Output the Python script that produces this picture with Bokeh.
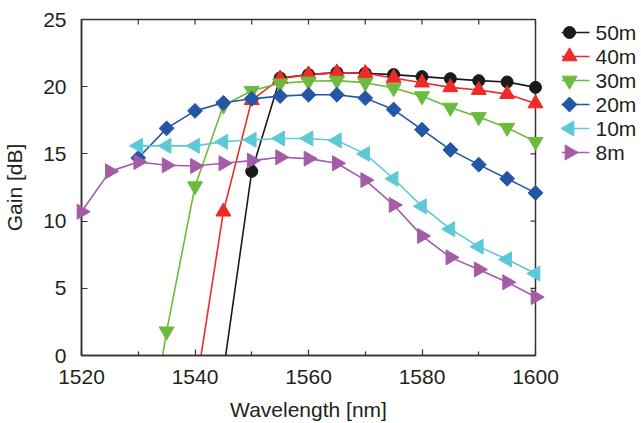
from bokeh.plotting import figure
from bokeh.layouts import row
from bokeh.models import (ColumnDataSource, FixedTicker, Range1d, CDSView, BooleanFilter)
from bokeh.core.properties import value
from bokeh.embed import file_html
from bokeh.resources import INLINE
import math

# ---- data ----
series_names = ["50m", "40m", "30m", "20m", "10m", "8m"]
wl_50 = [1545, 1550, 1555, 1560, 1565, 1570, 1575, 1580, 1585, 1590, 1595, 1600]
g_50 = [-1.2, 13.7, 20.65, 20.9, 21.05, 21.0, 20.9, 20.75, 20.6, 20.45, 20.35, 19.95]
wl_40 = [1540, 1545, 1550, 1555, 1560, 1565, 1570, 1575, 1580, 1585, 1590, 1595, 1600]
g_40 = [-2.9, 10.7, 19.0, 20.6, 20.9, 21.05, 21.0, 20.65, 20.3, 19.95, 19.75, 19.45, 18.75]
wl_30 = [1530, 1535, 1540, 1545, 1550, 1555, 1560, 1565, 1570, 1575, 1580, 1585, 1590, 1595, 1600]
g_30 = [-11.0, 1.8, 12.6, 18.6, 19.7, 20.25, 20.4, 20.45, 20.3, 19.9, 19.3, 18.45, 17.75, 16.95, 15.9]
wl_20 = [1530, 1535, 1540, 1545, 1550, 1555, 1560, 1565, 1570, 1575, 1580, 1585, 1590, 1595, 1600]
g_20 = [14.7, 16.9, 18.2, 18.8, 19.1, 19.3, 19.4, 19.4, 19.15, 18.3, 16.8, 15.3, 14.2, 13.15, 12.1]
wl_10 = [1530, 1535, 1540, 1545, 1550, 1555, 1560, 1565, 1570, 1575, 1580, 1585, 1590, 1595, 1600]
g_10 = [15.6, 15.6, 15.6, 15.9, 16.05, 16.15, 16.15, 16.0, 15.0, 13.15, 11.1, 9.4, 8.1, 7.15, 6.1]
wl_8 = [1520, 1525, 1530, 1535, 1540, 1545, 1550, 1555, 1560, 1565, 1570, 1575, 1580, 1585, 1590, 1595, 1600]
g_8 = [10.7, 13.7, 14.4, 14.15, 14.1, 14.3, 14.5, 14.75, 14.65, 14.3, 13.05, 11.2, 8.9, 7.3, 6.4, 5.45, 4.35]

x_major = [1520, 1540, 1560, 1580, 1600]
x_minor = [1530, 1550, 1570, 1590]
y_major = [0, 5, 10, 15, 20, 25]
x_lo, x_hi = 1520, 1600
y_lo, y_hi = 0, 25

colors = ["#1a1a1a", "#ee2a2a", "#6cbb3c", "#2356a6", "#5ec9d6", "#a45ca8"]
markers = ["circle", "triangle", "inverted_triangle", "square", "triangle", "triangle"]
angles = [0, 0, 0, math.pi / 4, math.pi / 2, -math.pi / 2]
sizes = [12, 15, 15, 10.5, 15, 15]

FONT = "Liberation Sans"
TXT = "#231f20"
AX = "#333333"

# layout constants (screen pixels)
FW, FH = 454, 336
BORDER_TOP = 19
BORDER_RIGHT = 26
LEG_W = 78
ROW = 24
ROW0 = 13            # first legend row centre below frame top
LINE_X0, LINE_X1 = 0, 28
MARK_X = 8
TEXT_X = 34

p = figure(frame_width=FW, frame_height=FH, output_backend="svg", toolbar_location=None,
           x_range=Range1d(x_lo, x_hi), y_range=Range1d(y_lo, y_hi),
           min_border_left=75, min_border_top=BORDER_TOP, min_border_bottom=10,
           min_border_right=BORDER_RIGHT,
           background_fill_color="white", border_fill_color="white")
p.grid.visible = False
p.outline_line_color = AX
p.outline_line_width = 1.5

xt = FixedTicker(ticks=x_major, minor_ticks=x_minor)
yt = FixedTicker(ticks=y_major, minor_ticks=[])

for ax in (p.xaxis[0], p.yaxis[0]):
    ax.axis_line_color = AX
    ax.axis_line_width = 1.5
    ax.major_tick_in = 6
    ax.major_tick_out = 0
    ax.minor_tick_in = 4
    ax.minor_tick_out = 0
    ax.major_tick_line_color = AX
    ax.minor_tick_line_color = AX
    ax.major_tick_line_width = 1.2
    ax.minor_tick_line_width = 1.2
    ax.major_label_text_font = FONT
    ax.major_label_text_font_size = "21px"
    ax.major_label_text_color = TXT
    ax.axis_label_text_font = FONT
    ax.axis_label_text_font_size = "21px"
    ax.axis_label_text_font_style = "normal"
    ax.axis_label_text_color = TXT

p.xaxis.ticker = xt
p.yaxis.ticker = yt
p.xaxis.axis_label = "Wavelength [nm]"
p.yaxis.axis_label = "Gain [dB]"
p.xaxis.major_label_standoff = 14
p.xaxis.axis_label_standoff = 11
p.yaxis.major_label_standoff = 15
p.yaxis.axis_label_standoff = 14

# mirrored inward ticks on the top and right frame edges
p.ray(x=x_major + x_minor, y=[y_hi] * (len(x_major) + len(x_minor)), length=5,
      length_units="screen", angle=-math.pi / 2, line_color=AX, line_width=1.2)
p.ray(x=[x_hi] * len(y_major), y=y_major, length=5, length_units="screen",
      angle=math.pi, line_color=AX, line_width=1.2)

wls = [wl_50, wl_40, wl_30, wl_20, wl_10, wl_8]
gs = [g_50, g_40, g_30, g_20, g_10, g_8]
for name, wl, g, c, m, a, s in zip(series_names, wls, gs, colors, markers, angles, sizes):
    src = ColumnDataSource(dict(x=wl, y=g))
    p.line("x", "y", source=src, line_color=c, line_width=1.6)
    view = CDSView(filter=BooleanFilter([v >= y_lo for v in g]))
    p.scatter("x", "y", source=src, view=view, marker=m, angle=a, size=s,
              fill_color=c, line_color=c, line_width=1, level="overlay")

# ---- legend panel (a separate, axis-less figure in pixel coordinates) ----
leg = figure(frame_width=LEG_W, frame_height=FH, output_backend="svg", toolbar_location=None,
             x_range=Range1d(0, LEG_W), y_range=Range1d(FH, 0),
             x_axis_location=None, y_axis_location=None,
             min_border_left=0, min_border_right=0, min_border_top=BORDER_TOP, min_border_bottom=10,
             background_fill_color="white", border_fill_color="white")
leg.grid.visible = False
leg.outline_line_color = None
n = len(series_names)
rows_y = [ROW0 + ROW * i for i in range(n)]
lsrc = ColumnDataSource(dict(
    y=rows_y, name=series_names, color=colors, marker=markers, angle=angles, size=sizes,
    x0=[LINE_X0] * n, x1=[LINE_X1] * n, xm=[MARK_X] * n, xt=[TEXT_X] * n))
leg.segment(x0="x0", y0="y", x1="x1", y1="y", source=lsrc, line_color="color", line_width=1.6)
leg.scatter(x="xm", y="y", source=lsrc, marker="marker", angle="angle", size="size",
            fill_color="color", line_color="color", line_width=1)
leg.text(x="xt", y="y", text="name", source=lsrc, text_font=value(FONT),
         text_font_size="21px", text_color=TXT, text_baseline="middle", text_align="left")

layout = row(p, leg, spacing=0)
open("out.html", "w").write(file_html(layout, INLINE))
